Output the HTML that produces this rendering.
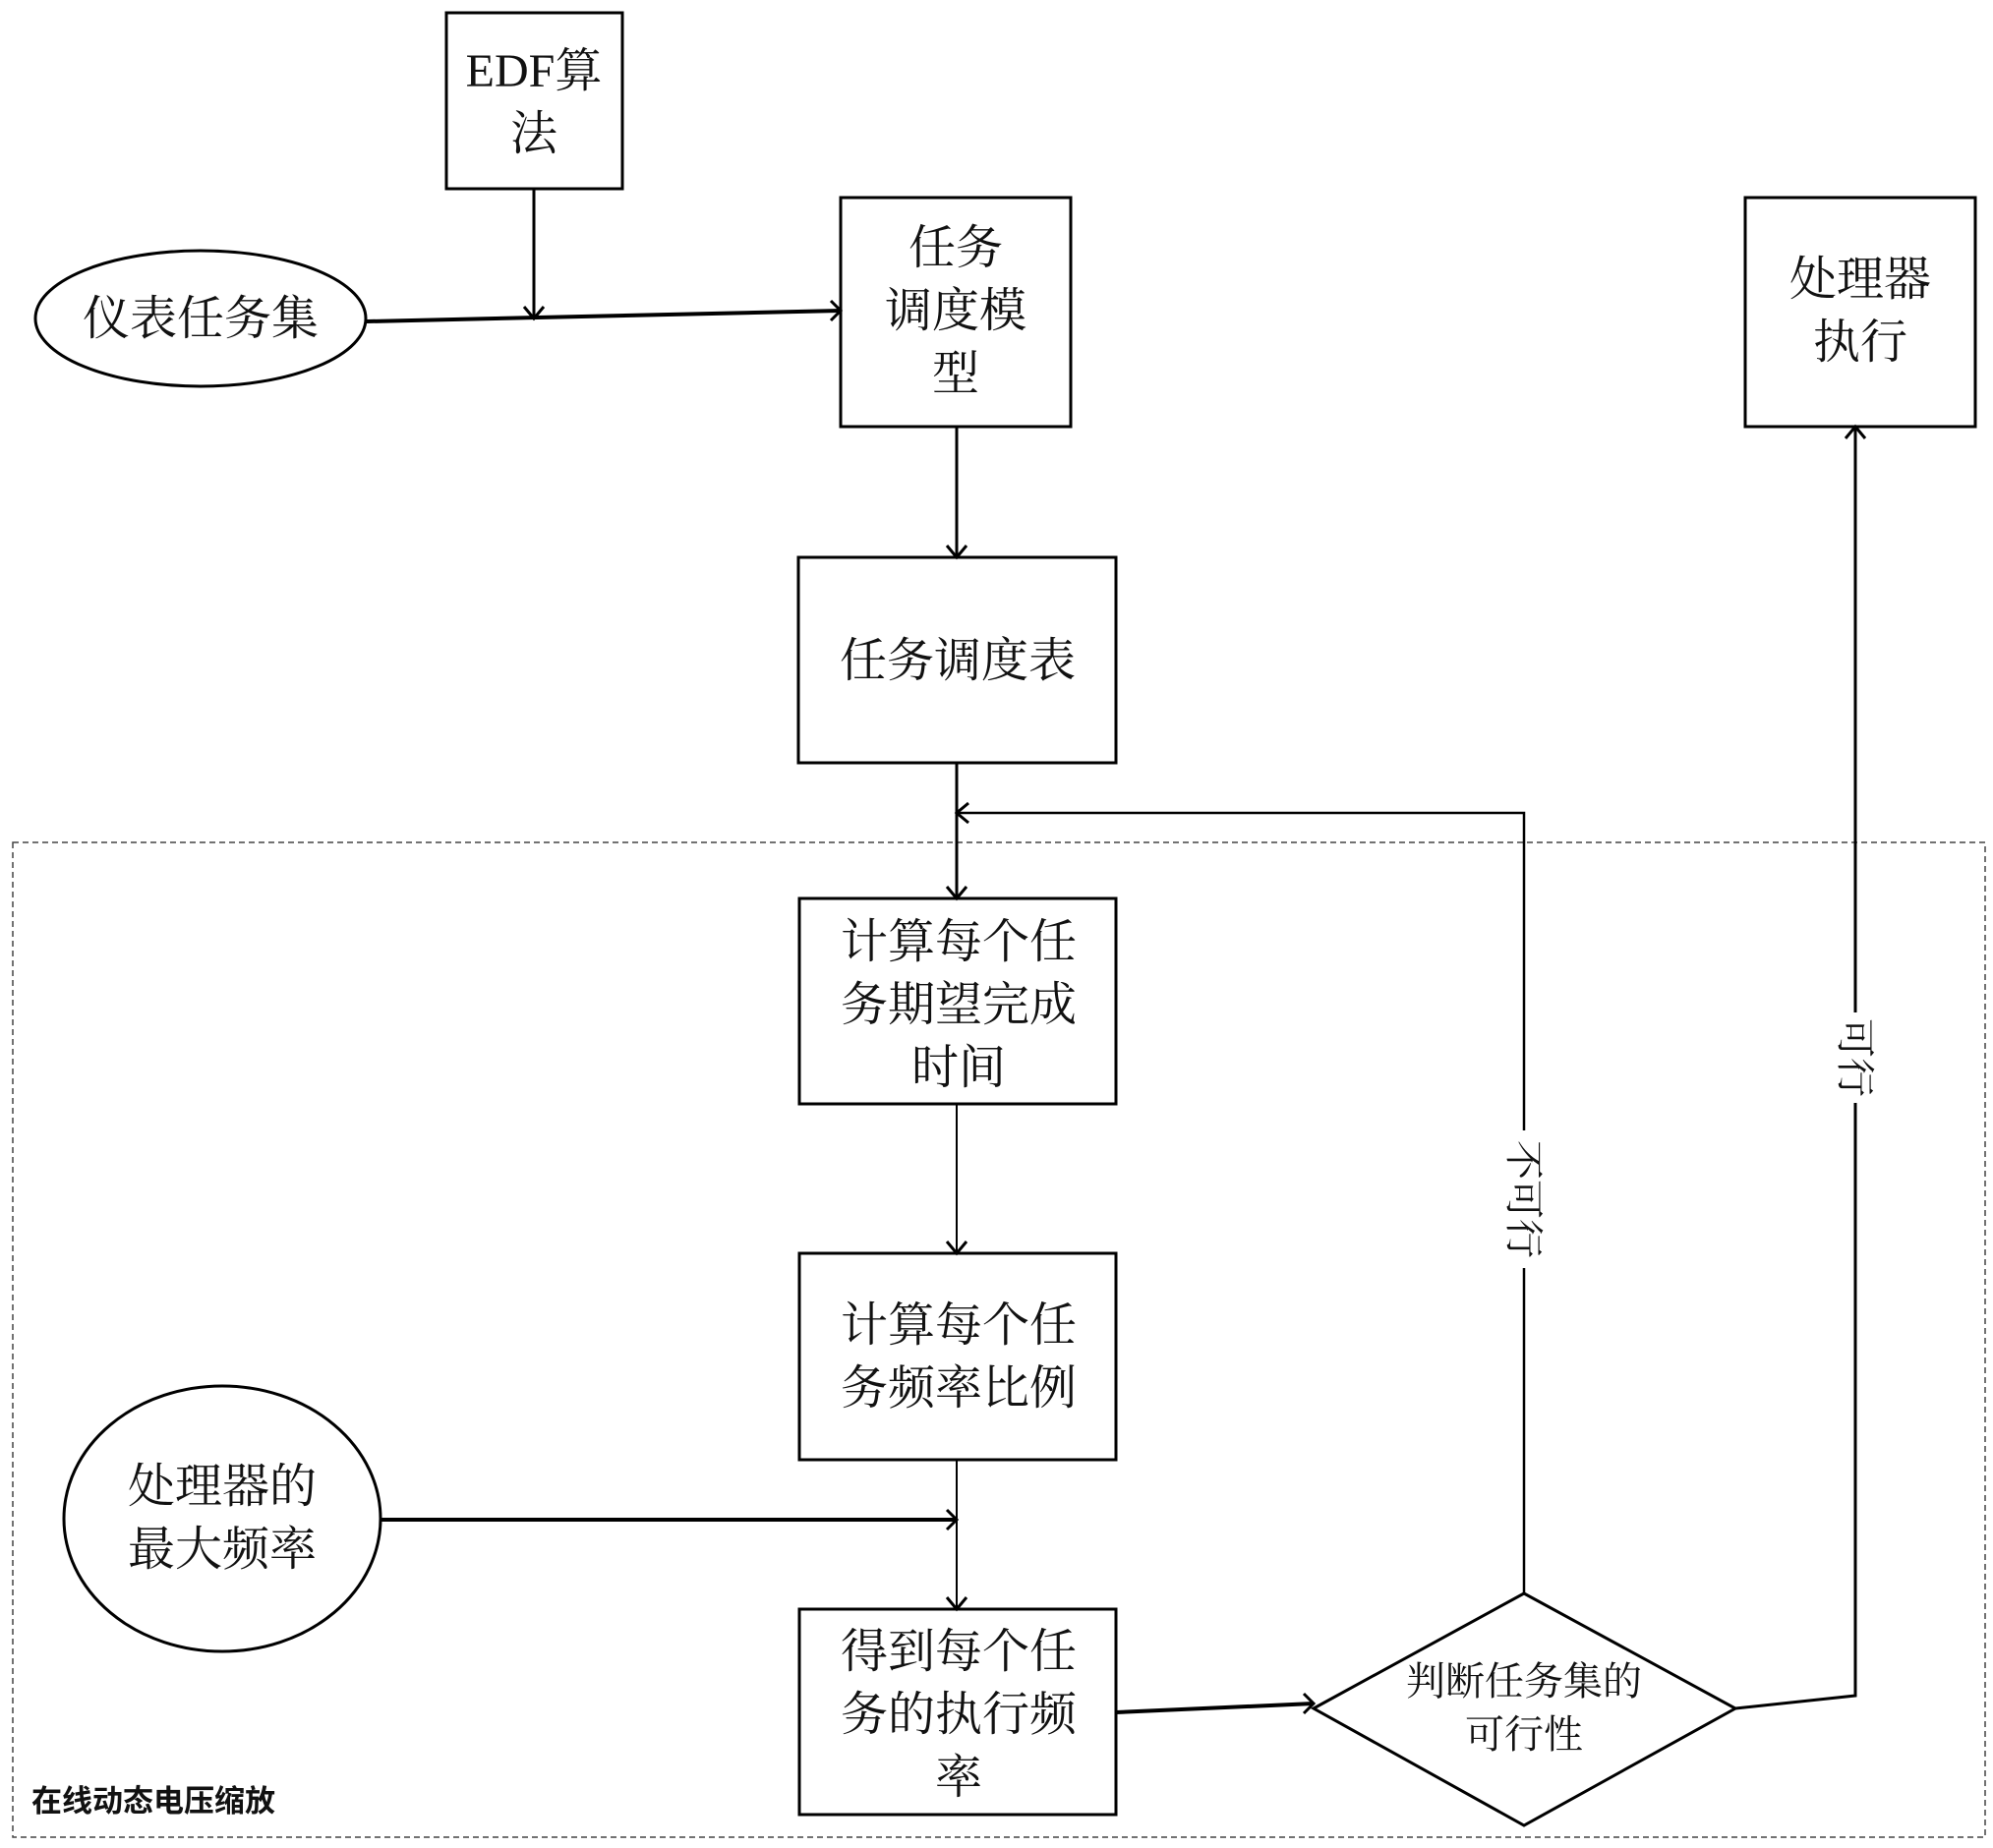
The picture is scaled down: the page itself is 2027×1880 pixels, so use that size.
<!DOCTYPE html>
<html><head><meta charset="utf-8"><style>
html,body{margin:0;padding:0;background:#fff;}
svg{display:block;}
.t{font-family:"Liberation Serif","Noto Serif CJK SC",serif;font-size:48px;fill:#111;text-anchor:middle;}
</style></head><body>
<svg width="2027" height="1880" viewBox="0 0 2027 1880" xmlns="http://www.w3.org/2000/svg">
<g fill="none" stroke="#000" stroke-width="3">
<rect x="13" y="857" width="2006" height="1012" stroke-width="1.5" stroke-dasharray="6,4" stroke="#444"/>
<rect x="454" y="13" width="179" height="179"/>
<ellipse cx="204" cy="324" rx="168" ry="69"/>
<rect x="855" y="201" width="234" height="233"/>
<rect x="812" y="567" width="323" height="209"/>
<rect x="813" y="914" width="322" height="209"/>
<rect x="813" y="1275" width="322" height="210"/>
<ellipse cx="226" cy="1545" rx="161" ry="135"/>
<rect x="813" y="1637" width="322" height="209"/>
<polygon points="1336,1738 1550,1621 1765,1738 1550,1857"/>
<rect x="1775" y="201" width="234" height="233"/>
<line x1="373" y1="327" x2="855" y2="316" stroke-width="4"/>
<polyline points="845,306 855,316 845,326"/>
<line x1="543" y1="192" x2="543" y2="324"/>
<polyline points="533,312 543,324 553,312"/>
<line x1="973" y1="434" x2="973" y2="567"/>
<polyline points="963,555 973,567 983,555"/>
<line x1="973" y1="776" x2="973" y2="914"/>
<polyline points="963,902 973,914 983,902"/>
<line x1="973" y1="1123" x2="973" y2="1275" stroke-width="2"/>
<polyline points="963,1263 973,1275 983,1263"/>
<line x1="973" y1="1485" x2="973" y2="1637" stroke-width="2"/>
<polyline points="963,1625 973,1637 983,1625"/>
<line x1="387" y1="1546" x2="973" y2="1546" stroke-width="4"/>
<polyline points="963,1536 973,1546 963,1556"/>
<line x1="1135" y1="1742" x2="1336" y2="1733" stroke-width="4"/>
<polyline points="1326,1723 1336,1733 1326,1743"/>
<polyline points="1550,1621 1550,827 973,827" stroke-width="2.5"/>
<polyline points="985,817 973,827 985,837"/>
<polyline points="1765,1738 1887,1725 1887,434" stroke-width="3"/>
<polyline points="1877,446 1887,434 1897,446"/>
</g>
<rect x="1530" y="1150" width="40" height="140" fill="#fff"/>
<rect x="1867" y="1030" width="40" height="92" fill="#fff"/>
<text class="t" x="543" y="88">EDF算</text>
<text class="t" x="543" y="152">法</text>
<text class="t" x="204" y="340">仪表任务集</text>
<text class="t" x="972" y="268">任务</text>
<text class="t" x="972" y="332">调度模</text>
<text class="t" x="972" y="396">型</text>
<text class="t" x="974" y="688">任务调度表</text>
<text class="t" x="975" y="974">计算每个任</text>
<text class="t" x="975" y="1038">务期望完成</text>
<text class="t" x="975" y="1102">时间</text>
<text class="t" x="975" y="1364">计算每个任</text>
<text class="t" x="975" y="1428">务频率比例</text>
<text class="t" x="226" y="1528">处理器的</text>
<text class="t" x="226" y="1592">最大频率</text>
<text class="t" x="975" y="1696">得到每个任</text>
<text class="t" x="975" y="1760">务的执行频</text>
<text class="t" x="975" y="1824">率</text>
<text class="t" x="1550" y="1724" style="font-size:40px">判断任务集的</text>
<text class="t" x="1550" y="1778" style="font-size:40px">可行性</text>
<text class="t" x="1892" y="300">处理器</text>
<text class="t" x="1892" y="364">执行</text>
<text class="t" transform="translate(1550,1220) rotate(90)" y="14" style="font-size:40px">不可行</text>
<text class="t" transform="translate(1887,1076) rotate(90)" y="14" style="font-size:40px">可行</text>
<text x="32" y="1843" style="font-family:'Liberation Sans','Noto Sans CJK SC',sans-serif;font-size:31px;font-weight:bold;fill:#111">在线动态电压缩放</text>
</svg>
</body></html>
